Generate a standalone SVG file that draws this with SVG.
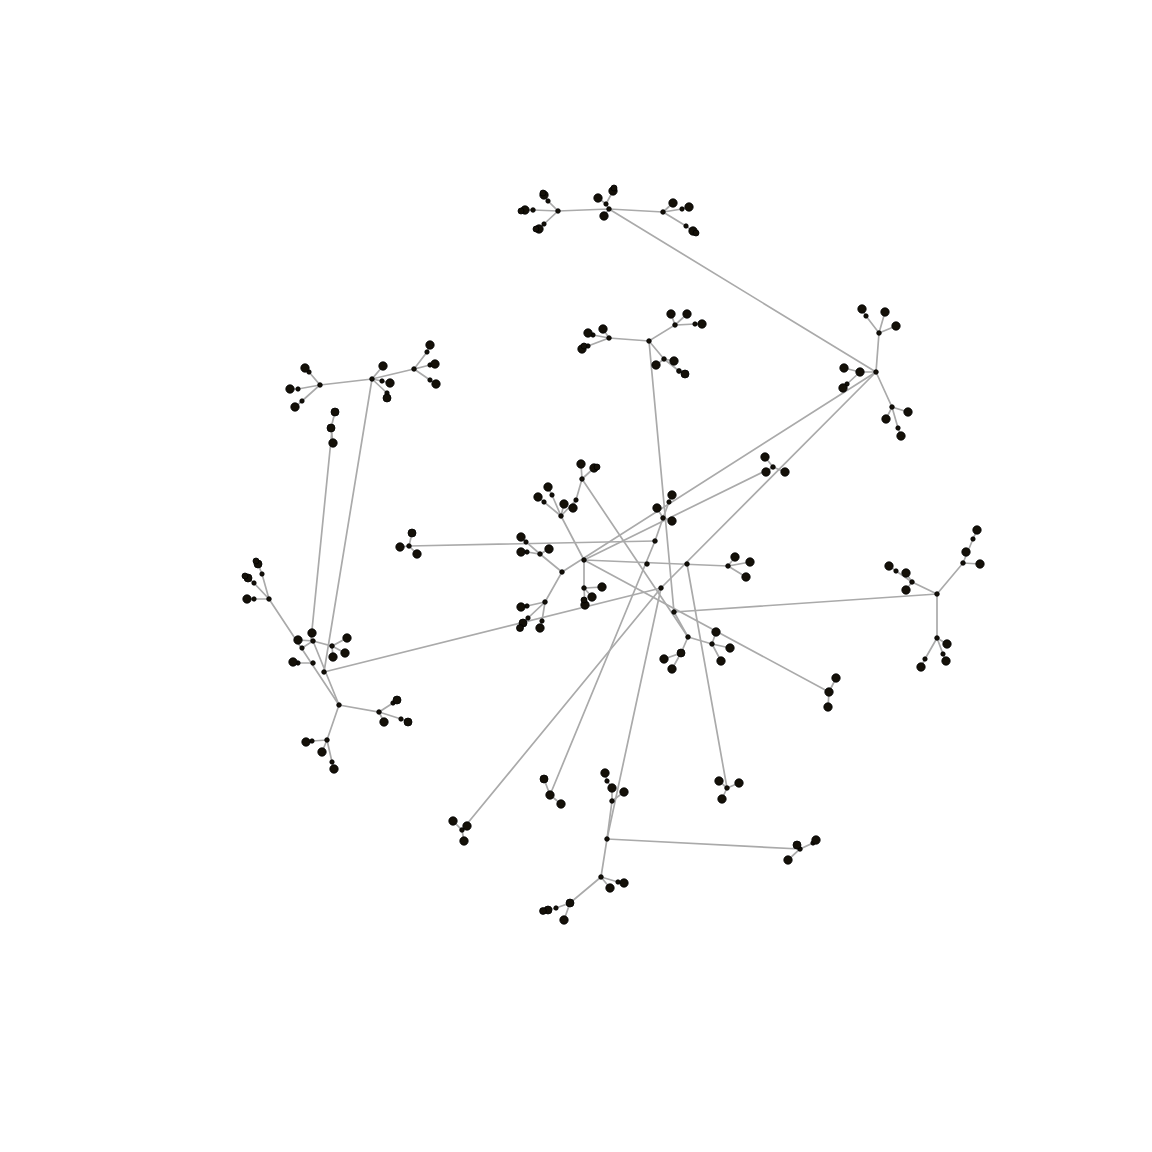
<svg xmlns="http://www.w3.org/2000/svg" width="1152" height="1152" viewBox="0 0 1152 1152">
<style>
.e line,.e polyline{stroke:#aaaaaa;stroke-width:1.7;fill:none;stroke-linecap:round}
.n circle{fill:#141008;stroke:#000;stroke-width:0.8}
</style>
<rect width="1152" height="1152" fill="#fff"/>
<g id="connectors" class="e">
<line x1="609" y1="209" x2="876" y2="372"/>
<line x1="876" y1="372" x2="562" y2="572"/>
<line x1="876" y1="372" x2="661" y2="588"/>
<line x1="649" y1="341" x2="674" y2="612"/>
<line x1="372" y1="379" x2="324" y2="672"/>
<line x1="332" y1="430" x2="311" y2="640"/>
<line x1="324" y1="672" x2="661" y2="588"/>
<line x1="409" y1="546" x2="655" y2="541"/>
<line x1="655" y1="541" x2="550" y2="795"/>
<line x1="584" y1="560" x2="773" y2="467"/>
<line x1="584" y1="560" x2="728" y2="566"/>
<line x1="584" y1="560" x2="829" y2="692"/>
<line x1="582" y1="479" x2="688" y2="637"/>
<line x1="687" y1="564" x2="727" y2="788"/>
<line x1="661" y1="588" x2="462" y2="830"/>
<line x1="661" y1="588" x2="607" y2="839"/>
<line x1="674" y1="612" x2="937" y2="594"/>
<line x1="607" y1="839" x2="800" y2="849"/>
<polyline points="524,210 533,210 558,211 609,209 663,212"/>
<polyline points="544,195 548,201 558,211 544,224 539,229"/>
<polyline points="598,198 606,204 613,191"/>
<line x1="606" y1="204" x2="609" y2="209"/>
<line x1="609" y1="209" x2="604" y2="216"/>
<polyline points="673,203 663,212 682,209 689,207"/>
<polyline points="663,212 686,226 693,231"/>
<polyline points="603,329 609,338 649,341 675,325 671,314"/>
<polyline points="588,333 593,335 609,338 588,346 582,349"/>
<polyline points="687,314 675,325 695,324 702,324"/>
<polyline points="649,341 664,359 656,365"/>
<polyline points="674,361 664,359 679,371 685,374"/>
<polyline points="862,309 866,316 879,333 885,312"/>
<polyline points="879,333 896,326"/>
<line x1="879" y1="333" x2="876" y2="372"/>
<polyline points="844,368 860,372 876,372"/>
<polyline points="860,372 847,384 843,388"/>
<polyline points="876,372 892,407 908,412"/>
<polyline points="886,419 892,407 898,428 901,436"/>
<polyline points="290,389 298,389 320,385 372,379 414,369"/>
<polyline points="295,407 302,401 320,385 309,372 305,368"/>
<polyline points="390,383 382,381 372,379 383,366"/>
<polyline points="372,379 387,393 387,398"/>
<polyline points="430,345 427,352 414,369 430,365 435,364"/>
<polyline points="414,369 430,380 436,384"/>
<polyline points="335,412 331,428 333,443"/>
<polyline points="258,564 262,574 269,599 254,583 248,578"/>
<polyline points="269,599 254,599 247,599"/>
<line x1="269" y1="599" x2="339" y2="705"/>
<line x1="313" y1="641" x2="339" y2="705"/>
<polyline points="313,641 332,646 347,638"/>
<polyline points="345,653 332,646 333,657"/>
<polyline points="298,640 313,641 302,648"/>
<polyline points="293,662 298,663 313,663"/>
<polyline points="339,705 379,712 393,703 397,700"/>
<polyline points="379,712 401,719 408,722"/>
<polyline points="379,712 384,722"/>
<polyline points="339,705 327,740 312,741 305,742"/>
<polyline points="327,740 322,752"/>
<polyline points="327,740 332,762 334,769"/>
<polyline points="412,533 409,546 400,547"/>
<line x1="409" y1="546" x2="417" y2="554"/>
<polyline points="520,536 526,542 540,554 562,572 545,602"/>
<polyline points="549,549 540,554 527,552 520,552"/>
<polyline points="521,607 527,606 545,602 528,618 521,625"/>
<polyline points="545,602 542,621 540,628"/>
<line x1="584" y1="560" x2="561" y2="516"/>
<polyline points="538,497 544,502 561,516 552,495 548,487"/>
<line x1="561" y1="516" x2="564" y2="504"/>
<polyline points="561,516 576,500 582,479 581,464"/>
<polyline points="576,500 573,507"/>
<line x1="582" y1="479" x2="594" y2="468"/>
<polyline points="584,560 584,588 602,587"/>
<polyline points="592,597 584,588 585,605"/>
<polyline points="655,541 663,518 669,502 672,495"/>
<polyline points="657,508 663,518 672,521"/>
<polyline points="735,557 728,566 750,562"/>
<line x1="728" y1="566" x2="746" y2="577"/>
<polyline points="765,457 773,467 785,472"/>
<line x1="773" y1="467" x2="766" y2="472"/>
<polyline points="688,637 712,644 716,632"/>
<polyline points="730,648 712,644 721,661"/>
<polyline points="688,637 681,653 664,659"/>
<line x1="681" y1="653" x2="672" y2="669"/>
<line x1="674" y1="612" x2="688" y2="637"/>
<polyline points="937,594 963,563 980,564"/>
<polyline points="963,563 973,539 977,530"/>
<polyline points="937,594 912,582 896,571 889,566"/>
<polyline points="906,573 912,582 906,590"/>
<polyline points="937,594 937,638 947,644"/>
<polyline points="937,638 943,654 946,661"/>
<polyline points="937,638 925,659 921,667"/>
<polyline points="836,678 829,692 828,707"/>
<polyline points="453,821 462,830 467,826"/>
<line x1="462" y1="830" x2="464" y2="841"/>
<polyline points="544,779 550,795 561,804"/>
<polyline points="607,839 612,801 612,788 607,781 605,773"/>
<line x1="612" y1="801" x2="624" y2="792"/>
<polyline points="797,845 800,849 788,860"/>
<polyline points="800,849 813,843 816,840"/>
<polyline points="607,839 601,877 618,882 624,883"/>
<polyline points="601,877 610,888"/>
<polyline points="601,877 570,903 556,908 548,910"/>
<polyline points="570,903 564,920"/>
<polyline points="719,781 727,788 739,783"/>
<line x1="727" y1="788" x2="722" y2="799"/>
</g>
<g class="n">
<g id="c-top">
<circle cx="609" cy="209" r="2.3"/><circle cx="558" cy="211" r="2.3"/><circle cx="663" cy="212" r="2.3"/>
<circle cx="533" cy="210" r="2.3"/><circle cx="525" cy="210" r="4.2"/><circle cx="521" cy="211" r="3"/>
<circle cx="548" cy="201" r="2.2"/><circle cx="544" cy="195" r="4.2"/><circle cx="543" cy="193" r="3"/>
<circle cx="544" cy="224" r="2.2"/><circle cx="539" cy="229" r="4.2"/><circle cx="536" cy="229" r="3"/>
<circle cx="606" cy="204" r="2.2"/><circle cx="598" cy="198" r="4.2"/><circle cx="613" cy="191" r="4.2"/><circle cx="614" cy="188" r="3"/><circle cx="604" cy="216" r="4.2"/>
<circle cx="673" cy="203" r="4.2"/><circle cx="682" cy="209" r="2.2"/><circle cx="689" cy="207" r="4.2"/>
<circle cx="686" cy="226" r="2.2"/><circle cx="693" cy="231" r="4.2"/><circle cx="696" cy="233" r="3"/>
</g>
<g id="c-upper">
<circle cx="649" cy="341" r="2.3"/><circle cx="609" cy="338" r="2.3"/><circle cx="675" cy="325" r="2.3"/><circle cx="664" cy="359" r="2.3"/>
<circle cx="603" cy="329" r="4.2"/><circle cx="593" cy="335" r="2.2"/><circle cx="588" cy="333" r="4.2"/>
<circle cx="588" cy="346" r="2.2"/><circle cx="582" cy="349" r="4.2"/><circle cx="584" cy="346" r="3"/>
<circle cx="671" cy="314" r="4.2"/><circle cx="687" cy="314" r="4.2"/><circle cx="695" cy="324" r="2.2"/><circle cx="702" cy="324" r="4.2"/>
<circle cx="656" cy="365" r="4.2"/><circle cx="674" cy="361" r="4.2"/><circle cx="679" cy="371" r="2.4"/><circle cx="685" cy="374" r="4"/>
</g>
<g id="c-right">
<circle cx="876" cy="372" r="2.3"/><circle cx="879" cy="333" r="2.3"/><circle cx="892" cy="407" r="2.3"/>
<circle cx="866" cy="316" r="2.2"/><circle cx="862" cy="309" r="4.2"/><circle cx="885" cy="312" r="4.2"/><circle cx="896" cy="326" r="4.2"/>
<circle cx="860" cy="372" r="4.2"/><circle cx="844" cy="368" r="4.2"/><circle cx="847" cy="384" r="2.2"/><circle cx="843" cy="388" r="4.2"/>
<circle cx="908" cy="412" r="4.2"/><circle cx="886" cy="419" r="4.2"/><circle cx="898" cy="428" r="2.2"/><circle cx="901" cy="436" r="4.2"/>
</g>
<g id="c-upperleft">
<circle cx="320" cy="385" r="2.3"/><circle cx="372" cy="379" r="2.3"/><circle cx="414" cy="369" r="2.3"/>
<circle cx="298" cy="389" r="2.2"/><circle cx="290" cy="389" r="4.2"/><circle cx="302" cy="401" r="2.2"/><circle cx="295" cy="407" r="4.2"/>
<circle cx="309" cy="372" r="2.2"/><circle cx="305" cy="368" r="4.2"/>
<circle cx="382" cy="381" r="2.2"/><circle cx="390" cy="383" r="4.2"/><circle cx="383" cy="366" r="4.2"/><circle cx="387" cy="393" r="2.2"/><circle cx="387" cy="398" r="4"/>
<circle cx="427" cy="352" r="2.2"/><circle cx="430" cy="345" r="4.2"/><circle cx="430" cy="365" r="2.2"/><circle cx="435" cy="364" r="4.2"/>
<circle cx="430" cy="380" r="2.2"/><circle cx="436" cy="384" r="4.2"/>
<circle cx="335" cy="412" r="4"/><circle cx="331" cy="428" r="4"/><circle cx="333" cy="443" r="4.2"/>
</g>
<g id="c-left">
<circle cx="269" cy="599" r="2.3"/><circle cx="262" cy="574" r="2.2"/><circle cx="258" cy="564" r="4"/><circle cx="256" cy="561" r="3"/>
<circle cx="254" cy="583" r="2.2"/><circle cx="248" cy="578" r="4"/><circle cx="245" cy="576" r="3"/>
<circle cx="254" cy="599" r="2.2"/><circle cx="247" cy="599" r="4.2"/>
<circle cx="313" cy="641" r="2.3"/><circle cx="312" cy="633" r="4.2"/><circle cx="298" cy="640" r="4.2"/><circle cx="302" cy="648" r="2.2"/>
<circle cx="332" cy="646" r="2.3"/><circle cx="347" cy="638" r="4.2"/><circle cx="345" cy="653" r="4.2"/><circle cx="333" cy="657" r="4.2"/>
<circle cx="313" cy="663" r="2.3"/><circle cx="298" cy="663" r="2.2"/><circle cx="293" cy="662" r="4.2"/>
<circle cx="324" cy="672" r="2.3"/><circle cx="339" cy="705" r="2.3"/>
<circle cx="379" cy="712" r="2.3"/><circle cx="393" cy="703" r="2.2"/><circle cx="397" cy="700" r="4"/>
<circle cx="401" cy="719" r="2.2"/><circle cx="408" cy="722" r="4"/><circle cx="384" cy="722" r="4.2"/>
<circle cx="327" cy="740" r="2.3"/><circle cx="312" cy="741" r="2.2"/><circle cx="306" cy="742" r="4.2"/>
<circle cx="322" cy="752" r="4.2"/><circle cx="332" cy="762" r="2.2"/><circle cx="334" cy="769" r="4.2"/>
</g>
<g id="c-leftmid">
<circle cx="409" cy="546" r="2.3"/><circle cx="412" cy="533" r="4"/><circle cx="400" cy="547" r="4.2"/><circle cx="417" cy="554" r="4.2"/>
</g>
<g id="c-center">
<circle cx="584" cy="560" r="2.3"/><circle cx="562" cy="572" r="2.3"/><circle cx="540" cy="554" r="2.3"/>
<circle cx="526" cy="542" r="2.2"/><circle cx="521" cy="537" r="4.2"/>
<circle cx="549" cy="549" r="4.2"/><circle cx="527" cy="552" r="2.2"/><circle cx="521" cy="552" r="4.2"/>
<circle cx="545" cy="602" r="2.3"/><circle cx="527" cy="606" r="2.2"/><circle cx="521" cy="607" r="4.2"/>
<circle cx="528" cy="618" r="2.2"/><circle cx="523" cy="623" r="4"/><circle cx="520" cy="628" r="3.5"/>
<circle cx="542" cy="621" r="2.2"/><circle cx="540" cy="628" r="4.2"/>
<circle cx="561" cy="516" r="2.3"/><circle cx="544" cy="502" r="2.2"/><circle cx="538" cy="497" r="4.2"/>
<circle cx="552" cy="495" r="2.2"/><circle cx="548" cy="487" r="4.2"/><circle cx="564" cy="504" r="4.2"/>
<circle cx="576" cy="500" r="2.2"/><circle cx="573" cy="508" r="4.2"/>
<circle cx="582" cy="479" r="2.3"/><circle cx="581" cy="464" r="4.2"/><circle cx="594" cy="468" r="4.2"/><circle cx="597" cy="467" r="3"/>
<circle cx="584" cy="588" r="2.3"/><circle cx="602" cy="587" r="4.2"/><circle cx="592" cy="597" r="4.2"/><circle cx="585" cy="605" r="4.2"/><circle cx="584" cy="600" r="3"/>
</g>
<g id="c-centerright">
<circle cx="655" cy="541" r="2.3"/><circle cx="663" cy="518" r="2.3"/><circle cx="669" cy="502" r="2.2"/><circle cx="672" cy="495" r="4.2"/>
<circle cx="657" cy="508" r="4.2"/><circle cx="672" cy="521" r="4.2"/>
<circle cx="647" cy="564" r="2.3"/><circle cx="687" cy="564" r="2.3"/><circle cx="661" cy="588" r="2.3"/><circle cx="674" cy="612" r="2.3"/>
<circle cx="728" cy="566" r="2.3"/><circle cx="735" cy="557" r="4.2"/><circle cx="750" cy="562" r="4.2"/><circle cx="746" cy="577" r="4.2"/>
<circle cx="773" cy="467" r="2.3"/><circle cx="765" cy="457" r="4.2"/><circle cx="766" cy="472" r="4.2"/><circle cx="785" cy="472" r="4.2"/>
<circle cx="688" cy="637" r="2.3"/><circle cx="712" cy="644" r="2.3"/><circle cx="716" cy="632" r="4.2"/><circle cx="730" cy="648" r="4.2"/><circle cx="721" cy="661" r="4.2"/>
<circle cx="681" cy="653" r="4"/><circle cx="664" cy="659" r="4.2"/><circle cx="672" cy="669" r="4.2"/>
</g>
<g id="c-farright">
<circle cx="937" cy="594" r="2.3"/><circle cx="963" cy="563" r="2.3"/><circle cx="980" cy="564" r="4.2"/><circle cx="966" cy="552" r="4.2"/>
<circle cx="973" cy="539" r="2.2"/><circle cx="977" cy="530" r="4.2"/>
<circle cx="912" cy="582" r="2.3"/><circle cx="906" cy="573" r="4.2"/><circle cx="896" cy="571" r="2.2"/><circle cx="889" cy="566" r="4.2"/><circle cx="906" cy="590" r="4.2"/>
<circle cx="937" cy="638" r="2.3"/><circle cx="947" cy="644" r="4.2"/><circle cx="943" cy="654" r="2.2"/><circle cx="946" cy="661" r="4.2"/>
<circle cx="925" cy="659" r="2.2"/><circle cx="921" cy="667" r="4.2"/>
<circle cx="829" cy="692" r="4.2"/><circle cx="836" cy="678" r="4.2"/><circle cx="828" cy="707" r="4.2"/>
</g>
<g id="c-bottom">
<circle cx="462" cy="830" r="2.3"/><circle cx="453" cy="821" r="4.2"/><circle cx="467" cy="826" r="4.2"/><circle cx="464" cy="841" r="4.2"/>
<circle cx="550" cy="795" r="4.2"/><circle cx="544" cy="779" r="4"/><circle cx="561" cy="804" r="4.2"/>
<circle cx="607" cy="839" r="2.3"/><circle cx="612" cy="801" r="2.3"/><circle cx="612" cy="788" r="4.2"/><circle cx="607" cy="781" r="2.2"/><circle cx="605" cy="773" r="4.2"/><circle cx="624" cy="792" r="4.2"/>
<circle cx="800" cy="849" r="2.3"/><circle cx="797" cy="845" r="4"/><circle cx="788" cy="860" r="4.2"/><circle cx="813" cy="843" r="2.2"/><circle cx="816" cy="840" r="4.2"/>
<circle cx="601" cy="877" r="2.3"/><circle cx="618" cy="882" r="2.2"/><circle cx="624" cy="883" r="4.2"/><circle cx="610" cy="888" r="4.2"/>
<circle cx="570" cy="903" r="4"/><circle cx="556" cy="908" r="2.2"/><circle cx="548" cy="910" r="4"/><circle cx="543" cy="911" r="3.4"/><circle cx="564" cy="920" r="4.2"/>
<circle cx="727" cy="788" r="2.3"/><circle cx="719" cy="781" r="4.2"/><circle cx="739" cy="783" r="4.2"/><circle cx="722" cy="799" r="4.2"/>
</g>
</g>
</svg>
